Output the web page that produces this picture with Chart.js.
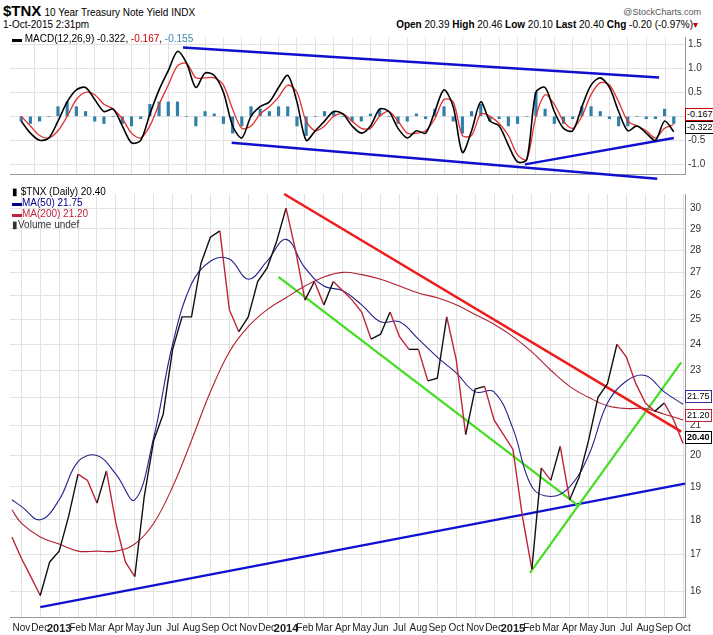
<!DOCTYPE html>
<html><head><meta charset="utf-8">
<script src="https://cdn.jsdelivr.net/npm/chart.js@4/dist/chart.umd.min.js"></script>
<style>
body{margin:0;background:#fff;width:713px;height:635px;position:relative;overflow:hidden;font-family:"Liberation Sans Narrow","Liberation Sans",sans-serif;}
.t{position:absolute;white-space:nowrap;font-size:11px;color:#000;}
canvas{position:absolute;left:0;}
.box{position:absolute;font-size:9px;padding:0 1px;background:#fff;border:1px solid;line-height:11px;}
</style></head><body>
<div class="t" style="left:3px;top:2px;"><b style="font-size:15px;">$TNX</b> <span style="font-size:10px">10 Year Treasury Note Yield INDX</span></div>
<div class="t" style="left:3px;top:19px;font-size:10px;">1-Oct-2015 2:31pm</div>
<div class="t" style="right:12px;top:7px;font-size:9px;color:#555;">@StockCharts.com</div>
<div class="t" style="right:15px;top:19px;font-size:10px;"><b>Open</b> 20.39 <b>High</b> 20.46 <b>Low</b> 20.10 <b>Last</b> 20.40 <b>Chg</b> -0.20 (-0.97%)<span style="color:#c00">▾</span></div>
<canvas id="macd" width="713" height="155" style="top:28px"></canvas>
<canvas id="price" width="713" height="452" style="top:183px"></canvas>
<div class="t" style="left:12px;top:33px;font-size:10px;"><b>▬</b> MACD(12,26,9) -0.322, <span style="color:#c00">-0.167</span>, <span style="color:#3a8ab0">-0.155</span></div>
<div class="t" style="left:12px;top:186px;font-size:10px;line-height:11px;">▮ $TNX (Daily) 20.40<br><span style="color:#00008b">▬MA(50) 21.75</span><br><span style="color:#c0243c">▬MA(200) 21.20</span><br><span style="color:#333">▮Volume undef</span></div>
<div class="box" style="left:685px;top:108px;border-color:#c00;">-0.167</div>
<div class="box" style="left:685px;top:121px;border-color:#000;">-0.322</div>
<div class="box" style="left:685px;top:390px;border-color:#333399;">21.75</div>
<div class="box" style="left:685px;top:409px;border-color:#c0243c;">21.20</div>
<div class="box" style="left:685px;top:431px;border-color:#000;font-weight:bold;">20.40</div>
<script>
const monthNames=["Nov","Dec","2013","Feb","Mar","Apr","May","Jun","Jul","Aug","Sep","Oct","Nov","Dec","2014","Feb","Mar","Apr","May","Jun","Jul","Aug","Sep","Oct","Nov","Dec","2015","Feb","Mar","Apr","May","Jun","Jul","Aug","Sep","Oct"];
const halfT=[-0.5,0,0.5,1,1.5,2,2.5,3,3.5,4,4.5,5,5.5,6,6.5,7,7.5,8,8.5,9,9.5,10,10.5,11,11.5,12,12.5,13,13.5,14,14.5,15,15.5,16,16.5,17,17.5,18,18.5,19,19.5,20,20.5,21,21.5,22,22.5,23,23.5,24,24.5,25,25.5,26,26.5,27,27.5,28,28.5,29,29.5,30,30.5,31,31.5,32,32.5,33,33.5,34,34.5,35];
const priceClose=[17.5,16.9,16.4,15.9,16.8,17.1,18.1,19.4,19.2,18.5,19.5,17.9,16.8,16.4,18.7,20.5,21.4,23.8,25.1,25.1,27.4,28.6,28.9,25.4,24.5,25.1,26.6,27.2,28.4,30.0,28.0,25.8,26.6,25.6,26.6,26.2,25.8,25.3,24.2,24.4,25.3,24.3,23.8,23.8,22.6,22.7,25.1,23.4,20.7,22.3,22.4,21.2,20.7,20.2,18.1,16.6,19.6,19.2,20.3,18.6,19.3,20.5,22.0,22.5,24.0,23.5,22.5,21.8,21.5,21.8,21.2,20.4];
const macdLine=[-0.1,-0.35,-0.5,-0.45,-0.1,0.3,0.55,0.6,0.35,0.1,0.15,-0.2,-0.55,-0.5,0.05,0.55,0.95,1.35,1.1,0.6,0.9,0.85,0.5,-0.2,-0.45,0.0,0.2,0.3,0.6,0.85,0.3,-0.5,-0.3,-0.1,0.1,0.05,-0.2,-0.35,-0.2,0.15,0.1,-0.25,-0.45,-0.3,-0.35,0.1,0.55,0.2,-0.75,-0.3,0.3,-0.1,-0.2,-0.6,-0.95,-0.9,0.5,0.6,0.1,-0.25,-0.3,0.2,0.65,0.8,0.6,0.1,-0.3,-0.2,-0.35,-0.5,-0.1,-0.32];
const signalLine=[0.0,-0.2,-0.4,-0.45,-0.3,0.0,0.35,0.5,0.45,0.25,0.15,-0.05,-0.35,-0.45,-0.2,0.25,0.65,1.05,1.1,0.8,0.8,0.8,0.65,0.15,-0.25,-0.2,0.05,0.2,0.4,0.65,0.5,-0.1,-0.3,-0.2,0.0,0.05,-0.1,-0.25,-0.25,0.0,0.1,-0.1,-0.35,-0.35,-0.3,-0.05,0.35,0.3,-0.4,-0.4,0.05,0.0,-0.15,-0.4,-0.8,-0.9,0.0,0.45,0.25,-0.1,-0.25,0.0,0.45,0.7,0.65,0.3,-0.1,-0.2,-0.3,-0.45,-0.25,-0.17];
const monT=[-0.5,0,1,2,3,4,5,6,7,8,9,10,11,12,13,14,15,16,17,18,19,20,21,22,23,24,25,26,27,28,29,30,31,32,33,34,35];
const ma50=[18.6,18.4,18.0,18.6,19.8,20.0,19.4,18.6,20.6,24.0,26.5,27.5,27.6,26.7,27.5,28.5,27.2,26.4,26.2,25.6,24.9,24.9,24.2,23.5,22.9,22.2,22.2,20.9,19.0,18.7,19.0,20.0,21.8,22.6,22.8,22.2,21.75];
const ma200=[18.3,17.9,17.5,17.3,17.1,17.1,17.1,17.3,17.9,19.0,20.5,22.2,23.7,24.7,25.4,25.9,26.4,26.8,27.0,26.9,26.7,26.4,26.1,25.9,25.6,25.2,24.8,24.3,23.7,23.0,22.4,22.0,21.7,21.6,21.6,21.4,21.2];
const redTrend=[13.9,30.7,34.9,20.8];
const greenTrend1=[13.6,26.8,29.5,18.4];
const greenTrend2=[26.9,16.5,34.9,23.3];
const blueTrend=[1.0,15.6,35.1,19.1];
const macdTop=[8.3,1.43,34.2,0.81];
const macdLow=[10.95,-0.55,34.1,-1.3];
const macdRise=[26.9,-1.0,35.0,-0.45];
const priceTicks=[16,17,18,19,20,21,22,23,24,25,26,27,28,29,30];
const macdTicks=[-1.0,-0.5,0,0.5,1.0,1.5];

const pts=(xs,ys)=>xs.map((x,i)=>({x,y:ys[i]}));
const seg=(a)=>[{x:a[0],y:a[1]},{x:a[2],y:a[3]}];
const grid='#e2e2e2';
const font={family:"'Liberation Sans Narrow','Liberation Sans',sans-serif",size:10};
const xBase={type:'linear',min:-0.6,max:35.1,grid:{color:grid,drawTicks:false},border:{color:'#999'}};
const yFit=s=>{s.width=28;};
const trend=(a,c,w)=>({type:'line',data:seg(a),borderColor:c,borderWidth:w,pointRadius:0,clip:false});
const isYear=c=>c.tick&&monthNames[c.tick.value]&&monthNames[c.tick.value].startsWith('20');

new Chart(document.getElementById('macd'),{
 data:{datasets:[
  {type:'line',data:pts(halfT,macdLine),borderColor:'#000',borderWidth:1.6,pointRadius:0,tension:0.3},
  {type:'line',data:pts(halfT,signalLine),borderColor:'#e03030',borderWidth:1.3,pointRadius:0,tension:0.3},
  {type:'bar',data:pts(halfT,macdLine.map((v,i)=>v-signalLine[i])),backgroundColor:'#2f7fa8',barThickness:2.5},
  trend(macdTop,'#1010d0',2.5),trend(macdLow,'#1010d0',2.5),trend(macdRise,'#1010d0',2.5)
 ]},
 options:{animation:false,responsive:false,plugins:{legend:{display:false},tooltip:{enabled:false}},
  layout:{padding:{left:10,top:2,bottom:0,right:0}},
  scales:{x:Object.assign({},xBase,{ticks:{display:false,stepSize:1},afterFit:s=>{s.height=0;}}),
   y:{position:'right',min:-1.2,max:1.65,afterFit:yFit,grid:{color:grid,drawTicks:false},border:{color:'#999'},
    afterBuildTicks:s=>{s.ticks=macdTicks.map(v=>({value:v}));},
    ticks:{font:font,color:'#333',padding:3,callback:v=>v.toFixed(1)}}}}
});

new Chart(document.getElementById('price'),{
 data:{datasets:[
  {type:'line',data:pts(halfT,priceClose),borderColor:'#000',borderWidth:1.4,pointRadius:0,
   segment:{borderColor:c=>c.p1.parsed.y<c.p0.parsed.y?'#c0243c':'#111'}},
  {type:'line',data:pts(monT,ma50),borderColor:'#22228a',borderWidth:1.1,pointRadius:0,tension:0.4},
  {type:'line',data:pts(monT,ma200),borderColor:'#b02030',borderWidth:1.1,pointRadius:0,tension:0.4},
  trend(redTrend,'#ee1c1c',2.5),trend(greenTrend1,'#44dd22',2.2),trend(greenTrend2,'#44dd22',2.2),trend(blueTrend,'#1010d0',2.5)
 ]},
 options:{animation:false,responsive:false,plugins:{legend:{display:false},tooltip:{enabled:false}},
  layout:{padding:{left:10,top:0,bottom:0,right:0}},
  scales:{x:Object.assign({},xBase,{afterFit:s=>{s.height=18;},
    afterBuildTicks:s=>{s.ticks=monthNames.map((n,i)=>({value:i}));},
    ticks:{autoSkip:false,maxRotation:0,padding:5,color:'#222',
     font:c=>({family:font.family,size:isYear(c)?11:10,weight:isYear(c)?'bold':'normal'}),
     callback:v=>monthNames[v]}}),
   y:{type:'logarithmic',position:'right',min:15.35,max:30.7,afterFit:yFit,grid:{color:grid,drawTicks:false},border:{color:'#999'},
    afterBuildTicks:s=>{s.ticks=priceTicks.map(v=>({value:v}));},
    ticks:{font:font,color:'#333',padding:5,callback:v=>String(v)}}}}
});
</script></body></html>
